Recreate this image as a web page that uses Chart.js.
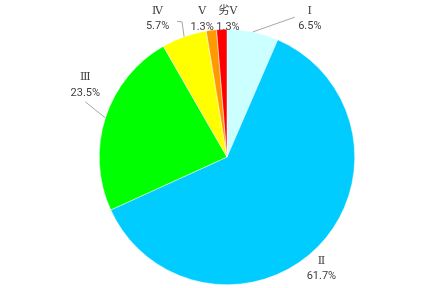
<!DOCTYPE html>
<html lang="zh">
<head>
<meta charset="UTF-8">
<title>Pie</title>
<script src="https://cdn.jsdelivr.net/npm/chart.js"></script>
<style>
  html, body { margin: 0; padding: 0; background: #fff; }
  #wrap { width: 444px; height: 288px; }
</style>
</head>
<body>
<div id="wrap"><canvas id="pie"></canvas></div>
<script>
// chart data
const categories = ['Ⅰ', 'Ⅱ', 'Ⅲ', 'Ⅳ', 'Ⅴ', '劣Ⅴ'];
const shares = [6.5, 61.7, 23.5, 5.7, 1.3, 1.3];
const sliceColors = ['#CCFFFF', '#00CCFF', '#00FF00', '#FFFF00', '#FF9900', '#FF0000'];

// where each label sits: angle clockwise from 12 o'clock (deg), distance as share of radius
const labelPlace = [
  { ang: 30.9, dist: 1.262, leader: [[-15, -1.5]] },
  { ang: 139.8, dist: 1.145, leader: null },
  { ang: 297.0, dist: 1.245, leader: [[0, 17]] },
  { ang: 333.4, dist: 1.214, leader: [[24.5, 3.5], [19.5, 3]] },
  { ang: 349.8, dist: 1.099, leader: null },
  { ang: 0.4, dist: 1.082, leader: null }
];

const pieLabels = {
  id: 'pieLabels',
  afterDatasetsDraw(chart) {
    const c = chart.ctx;
    const arcs = chart.getDatasetMeta(0).data;
    c.save();
    c.textAlign = 'center';
    c.textBaseline = 'middle';
    arcs.forEach((arc, i) => {
      const p = labelPlace[i];
      const a = (p.ang - 90) * Math.PI / 180;
      const lx = arc.x + Math.cos(a) * arc.outerRadius * p.dist;
      const ly = arc.y + Math.sin(a) * arc.outerRadius * p.dist;
      if (p.leader) {
        const mid = (arc.startAngle + arc.endAngle) / 2;
        c.beginPath();
        c.strokeStyle = '#A6A6A6';
        c.lineWidth = 1;
        c.moveTo(arc.x + Math.cos(mid) * arc.outerRadius, arc.y + Math.sin(mid) * arc.outerRadius);
        p.leader.forEach(pt => c.lineTo(lx + pt[0], ly + pt[1]));
        c.stroke();
      }
      c.fillStyle = '#404040';
      c.font = '11px "DejaVu Serif", "Noto Sans CJK SC", serif';
      c.fillText(categories[i], lx, ly - 7.5);
      c.font = '11px Roboto, "Noto Sans", sans-serif';
      c.fillText(shares[i].toFixed(1) + '%', lx, ly + 8);
    });
    c.restore();
  }
};

new Chart(document.getElementById('pie'), {
  type: 'pie',
  data: {
    labels: categories,
    datasets: [{
      data: shares,
      backgroundColor: sliceColors,
      borderColor: '#ffffff',
      borderWidth: 0.5
    }]
  },
  options: {
    responsive: true,
    maintainAspectRatio: false,
    animation: false,
    layout: { padding: { left: 10, right: 0, top: 29, bottom: 3 } },
    plugins: {
      legend: { display: false },
      tooltip: { enabled: false },
      title: { display: false }
    }
  },
  plugins: [pieLabels]
});
</script>
</body>
</html>
